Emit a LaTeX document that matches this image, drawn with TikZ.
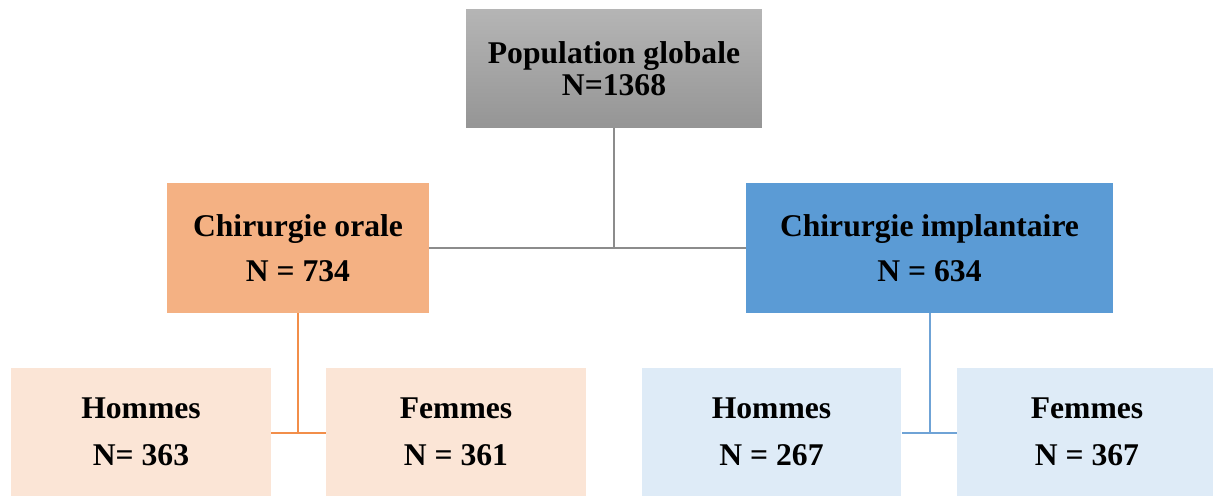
\documentclass[tikz,border=0pt]{standalone}
\usepackage{fontspec}
\setmainfont{Liberation Serif}
\definecolor{grisHaut}{HTML}{B5B5B5}
\definecolor{grisBas}{HTML}{959595}
\definecolor{grisTrait}{HTML}{8C8C8C}
\definecolor{orangeFort}{HTML}{F4B183}
\definecolor{orangePale}{HTML}{FBE5D6}
\definecolor{orangeTrait}{HTML}{F28E4A}
\definecolor{bleuFort}{HTML}{5B9BD5}
\definecolor{bleuPale}{HTML}{DEEBF7}
\definecolor{bleuTrait}{HTML}{6FA3D6}
\begin{document}
\begin{tikzpicture}[x=.02cm,y=-.02cm,
	boite/.style={inner sep=0pt,align=center,font=\fontsize{18}{25.5}\selectfont\bfseries},
	sous/.style={boite,minimum width=5.2cm,minimum height=2.56cm,font=\fontsize{18}{26.5}\selectfont\bfseries},
	trait/.style={line width=.85pt}]
	\useasboundingbox (0,0) rectangle (1213,496);
	% niveau 1
	\node[boite,minimum width=5.92cm,minimum height=2.38cm,top color=grisHaut,bottom color=grisBas,
		font=\fontsize{18}{18}\selectfont\bfseries] (pop) at (614,68.5) {Population globale\\N=1368};
	% niveau 2
	\node[boite,minimum width=5.24cm,minimum height=2.6cm,fill=orangeFort] (orale) at (298,248) {Chirurgie orale\\N = 734};
	\node[boite,minimum width=7.34cm,minimum height=2.6cm,fill=bleuFort] (impl) at (929.5,248) {Chirurgie implantaire\\N = 634};
	% niveau 3
	\node[sous,fill=orangePale] (homO) at (141,432) {Hommes\\N= 363};
	\node[sous,fill=orangePale] (femO) at (456,432) {Femmes\\N = 361};
	\node[sous,fill=bleuPale] (homI) at (771.5,432) {Hommes\\N = 267};
	\node[sous,fill=bleuPale] (femI) at (1087,432) {Femmes\\N = 367};
	
	\coordinate (jpop) at (614,248);
	\coordinate (jorale) at (298,433);
	\coordinate (jimpl) at (930,433);
	\draw[trait,grisTrait] (pop.south) -- (jpop);
	\draw[trait,grisTrait] (orale.east) -- (impl.west);
	\draw[trait,orangeTrait] (orale.south) -- (jorale);
	\draw[trait,orangeTrait] (homO.east |- jorale) -- (femO.west |- jorale);
	\draw[trait,bleuTrait] (impl.south -| jimpl) -- (jimpl);
	\draw[trait,bleuTrait] (homI.east |- jimpl) -- (femI.west |- jimpl);
\end{tikzpicture}
\end{document}
